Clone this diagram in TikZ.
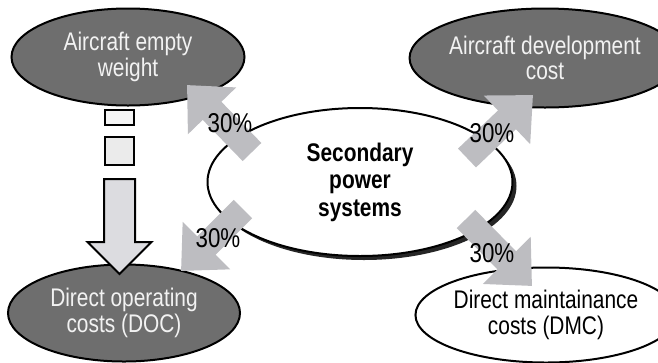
\documentclass[tikz,border=0pt]{standalone}
\usepackage{fontspec}
\setmainfont{Liberation Sans}[FakeStretch=0.82]
\usepackage{tikz}
\usetikzlibrary{shapes.geometric, shapes.arrows, arrows.meta, shadows}
\definecolor{darkgraybg}{HTML}{6E6E6E}
\definecolor{arrowgray}{HTML}{BDBDC1}
\definecolor{bargray}{HTML}{DCDCE0}
\newdimen\pxu
\pxu=0.02cm

\begin{document}
\begin{tikzpicture}[
    x=\pxu, y=-\pxu,
    blob/.style={ellipse, draw=black, line width=2\pxu, inner sep=0pt, align=center, font=\fontsize{14.5}{14.6}\selectfont},
    darkblob/.style={blob, fill=darkgraybg, text=white!95!black},
    pct/.style={font=\fontsize{15.5}{15.5}\selectfont, inner sep=0pt},
    bigarrow/.style={draw=arrowgray, line width=26\pxu, -{Triangle[width=1.3cm, length=0.72cm]}},
    barbox/.style={rectangle, draw=black, line width=2\pxu, minimum width=29\pxu, inner sep=0pt}
]
\useasboundingbox (0,0) rectangle (658,362);

\node[darkblob, minimum width=233\pxu, minimum height=97\pxu] (aew) at (128,57) {Aircraft empty\\weight};
\node[darkblob, minimum width=224\pxu, minimum height=99\pxu] (adc) at (545,58) {Aircraft development\\cost};
\node[darkblob, minimum width=232\pxu, minimum height=97\pxu] (doc) at (124,313) {Direct operating\\costs (DOC)};
\node[blob, fill=white, minimum width=226\pxu, minimum height=95\pxu] (dmc) at (546,315) {Direct maintainance\\costs (DMC)};
\node[blob, fill=white, minimum width=305\pxu, minimum height=148\pxu,
      font=\bfseries\fontsize{14.5}{15.6}\selectfont,
      drop shadow={shadow xshift=4\pxu, shadow yshift=-4\pxu, fill=black, opacity=0.85}] (sps) at (360,182) {Secondary\\power\\systems};

\node[barbox, fill=white!96!black, minimum height=15\pxu] (bar1) at (119.5,117.5) {};
\node[barbox, fill=black!8, minimum height=28\pxu] (bar2) at (119.5,151) {};
\node[single arrow, draw=black, line width=2\pxu, fill=bargray, inner sep=14.5\pxu,
      shape border rotate=270, minimum height=95\pxu, minimum width=62\pxu,
      single arrow head extend=16.5\pxu, anchor=tail] (weightarrow) at (119.5,178) {};

\coordinate (t1) at (252,152);
\coordinate (h1) at (187,85);
\coordinate (t2) at (467,158);
\coordinate (h2) at (533,95);
\coordinate (t3) at (243,209);
\coordinate (h3) at (181,271);
\coordinate (t4) at (466,219);
\coordinate (h4) at (532,286);

\draw[bigarrow] (t1) -- (h1);
\draw[bigarrow] (t2) -- (h2);
\draw[bigarrow] (t3) -- (h3);
\draw[bigarrow] (t4) -- (h4);

\node[pct] (p1) at (230,123) {30\%};
\node[pct] (p2) at (492,133) {30\%};
\node[pct] (p3) at (218,238) {30\%};
\node[pct] (p4) at (492,253) {30\%};

\end{tikzpicture}
\end{document}
